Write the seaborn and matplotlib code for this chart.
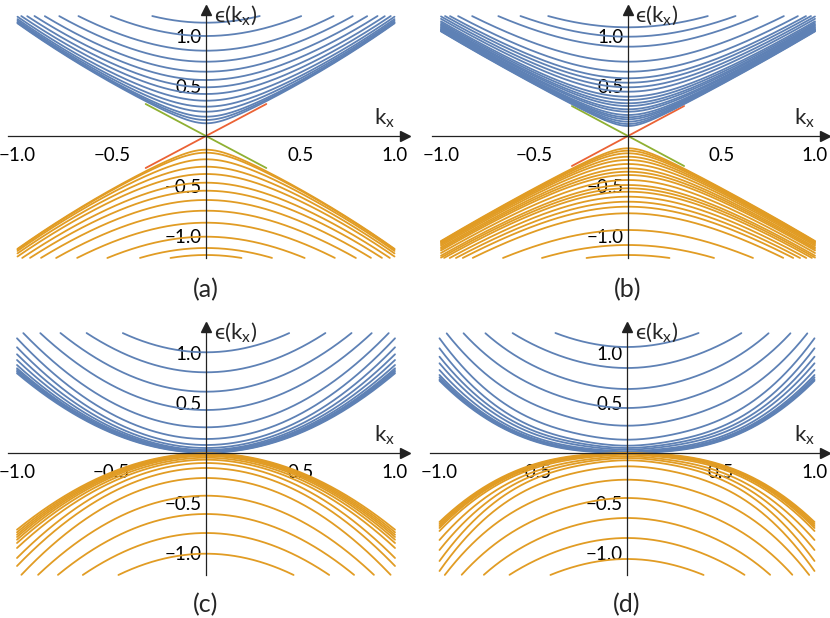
import numpy as np
import pandas as pd
import matplotlib
matplotlib.use("Agg")
import matplotlib.pyplot as plt
from matplotlib.ticker import MultipleLocator
import seaborn as sns

# band edges at k_x = 0 (conduction > 0, valence < 0)
cond_a = [1.133, 1.0, 0.853, 0.743, 0.643, 0.56, 0.487, 0.42, 0.353, 0.293, 0.243, 0.193, 0.16, 0.127]
val_a = [-0.137, -0.167, -0.233, -0.307, -0.38, -0.467, -0.547, -0.64, -0.747, -0.867, -1.007, -1.12, -1.19]

cond_b = [1.087, 0.993, 0.893, 0.743, 0.643, 0.577, 0.533, 0.487, 0.443, 0.393, 0.36,
          0.327, 0.3, 0.267, 0.243, 0.21, 0.187, 0.167, 0.143, 0.12, 0.1]
val_b = [-0.123, -0.147, -0.173, -0.207, -0.24, -0.28, -0.323, -0.357, -0.39, -0.44,
         -0.49, -0.523, -0.557, -0.607, -0.657, -0.707, -0.773, -0.94, -1.09, -1.19]

cond_c = [1.007, 0.807, 0.613, 0.43, 0.257, 0.14, 0.08, 0.05, 0.03, 0.02, 0.014, 0.009, 0.005, 0.002]
val_c = [-1.007, -0.8, -0.61, -0.427, -0.25, -0.15, -0.1, -0.067, -0.047, -0.03, -0.02, -0.012, -0.006, -0.002]

cond_d = [1.06, 0.85, 0.64, 0.45, 0.273, 0.133, 0.073, 0.05, 0.033, 0.017, 0.01, 0.006, 0.003, 0.001]
val_d = [-1.06, -0.85, -0.65, -0.45, -0.267, -0.133, -0.073, -0.05, -0.033, -0.017, -0.01, -0.006, -0.003, -0.001]

# band energies at |k_x| = 1 for panels c and d (estimated where the band leaves the frame)
rim_c_cond = [1.98, 1.78, 1.6, 1.43, 1.265, 1.147, 1.057, 0.987, 0.93, 0.88, 0.847, 0.83, 0.813, 0.797]
rim_c_val = [-1.98, -1.78, -1.6, -1.43, -1.265, -1.13, -1.05, -0.95, -0.9, -0.867, -0.84, -0.817, -0.793, -0.767]
rim_d_cond = [2.08, 1.87, 1.72, 1.49, 1.29, 1.147, 1.047, 0.963, 0.897, 0.83, 0.78, 0.757, 0.737, 0.723]
rim_d_val = [-2.08, -1.87, -1.72, -1.49, -1.29, -1.18, -1.08, -0.97, -0.87, -0.78, -0.75, -0.73, -0.71, -0.69]

# dispersion shape per panel
# a, b: E^2 = m^2 + (v0^2 + A|m|^p) k^2 + w^2 k^4      -> (v0, A, p, w)
# c, d: E^2 = m^2 + A|m| k^2 + B |k|^r, B from the rim  -> (A, r)
shape_a = (1.0, 0.65, 2.5, 0.5)
shape_b = (1.0, 0.35, 1.5, 0.27)
shape_c = (2.0, 4.0)
shape_d = (2.0, 5.2)

# k_x extent of the two surface-state lines (panels a, b)
arc_a = 0.32
arc_b = 0.30

BLUE, ORANGE, GREEN, RED = "#5E81B5", "#E19C24", "#8FB032", "#EB6235"
AXC = "#222222"

sns.set_style("white")
plt.rcParams["font.family"] = ["Lato", "DejaVu Sans"]
plt.rcParams["mathtext.fontset"] = "custom"
plt.rcParams["mathtext.rm"] = "Lato"
plt.rcParams["mathtext.it"] = "Lato"

kx = np.linspace(-1, 1, 1201)


def to_frame(e, name, kind):
    keep = (e <= 1.2) & (e >= -1.22)
    return pd.DataFrame({"k": kx[keep], "E": e[keep], "band": name, "kind": kind})


def dirac_bands(edges, shape, kind):
    v0, A, p, w = shape
    parts = []
    for i, m in enumerate(edges):
        a = abs(m)
        e = np.sign(m) * np.sqrt(a**2 + (v0**2 + A * a**p) * kx**2 + w**2 * kx**4)
        parts.append(to_frame(e, f"{kind}{i}", kind))
    return pd.concat(parts, ignore_index=True)


def flat_bands(edges, rims, shape, kind):
    A, r = shape
    parts = []
    for i, (m, e1) in enumerate(zip(edges, rims)):
        a = abs(m)
        B = max(e1**2 - a**2 - A * a, 0)
        e = np.sign(m) * np.sqrt(a**2 + A * a * kx**2 + B * np.abs(kx)**r)
        parts.append(to_frame(e, f"{kind}{i}", kind))
    return pd.concat(parts, ignore_index=True)


def panel(rect, df, arc, label, label_xy):
    ax = fig.add_axes(rect)
    if arc:
        ks = np.array([-arc, arc])
        sns.lineplot(x=ks, y=ks, color=RED, lw=1.3, ax=ax)
        sns.lineplot(x=ks, y=-ks, color=GREEN, lw=1.3, ax=ax)
    sns.lineplot(data=df, x="k", y="E", units="band", estimator=None, hue="kind",
                 palette={"c": BLUE, "v": ORANGE}, legend=False, lw=1.3, ax=ax)
    ax.set_xlim(-1.07, 1.07)
    ax.set_ylim(-1.23, 1.29)
    for s in ["top", "right"]:
        ax.spines[s].set_visible(False)
    ax.spines["left"].set_position(("data", 0))
    ax.spines["bottom"].set_position(("data", 0))
    ax.spines["bottom"].set_bounds(-1.05, 1.05)
    ax.spines["left"].set_bounds(-1.22, 1.26)
    for s in ["left", "bottom"]:
        ax.spines[s].set_color(AXC)
        ax.spines[s].set_linewidth(0.9)
    ax.plot([1.055], [0], marker=">", color=AXC, ms=6.5, clip_on=False)
    ax.plot([0], [1.265], marker="^", color=AXC, ms=6.5, clip_on=False)
    ax.set_xticks([-1, -0.5, 0.5, 1])
    ax.set_yticks([-1, -0.5, 0.5, 1])
    ax.set_xticklabels(["−1.0", "−0.5", "0.5", "1.0"])
    ax.set_yticklabels(["−1.0", "−0.5", "0.5", "1.0"])
    ax.xaxis.set_minor_locator(MultipleLocator(0.1))
    ax.yaxis.set_minor_locator(MultipleLocator(0.1))
    ax.tick_params(which="major", direction="in", length=4, width=0.8, color=AXC,
                   labelsize=13.5, labelcolor="black")
    ax.tick_params(which="minor", direction="in", length=2.2, width=0.7, color=AXC)
    ax.tick_params(axis="x", pad=8)
    ax.tick_params(axis="y", pad=3)
    ax.set_xlabel("")
    ax.set_ylabel("")
    ax.text(0.04, 1.21, "ϵ(k$_\\mathrm{x}$)", fontsize=16, ha="left", va="center")
    ax.text(0.945, 0.18, "k$_\\mathrm{x}$", fontsize=16, ha="center", va="center")
    fig.text(label_xy[0] / 830, 1 - label_xy[1] / 618, label, fontsize=18, ha="center", va="center")
    return ax


def rect_for(x0, y0, sx, sy):
    left = x0 - 1.07 * sx
    top = y0 - 1.29 * sy
    bottom = y0 + 1.23 * sy
    return [left / 830, 1 - bottom / 618, 2.14 * sx / 830, (bottom - top) / 618]


df_a = pd.concat([dirac_bands(cond_a, shape_a, "c"), dirac_bands(val_a, shape_a, "v")], ignore_index=True)
df_b = pd.concat([dirac_bands(cond_b, shape_b, "c"), dirac_bands(val_b, shape_b, "v")], ignore_index=True)
df_c = pd.concat([flat_bands(cond_c, rim_c_cond, shape_c, "c"),
                  flat_bands(val_c, rim_c_val, shape_c, "v")], ignore_index=True)
df_d = pd.concat([flat_bands(cond_d, rim_d_cond, shape_d, "c"),
                  flat_bands(val_d, rim_d_val, shape_d, "v")], ignore_index=True)

fig = plt.figure(figsize=(8.3, 6.18), dpi=100)
panel(rect_for(206, 136, 188.5, 100), df_a, arc_a, "(a)", (206, 290))
panel(rect_for(628, 136, 187, 100), df_b, arc_b, "(b)", (628, 290))
panel(rect_for(206, 453, 189, 100), df_c, None, "(c)", (206, 605))
panel(rect_for(627, 453, 187.5, 100), df_d, None, "(d)", (627, 605))

fig.savefig("out.png", dpi=100)
